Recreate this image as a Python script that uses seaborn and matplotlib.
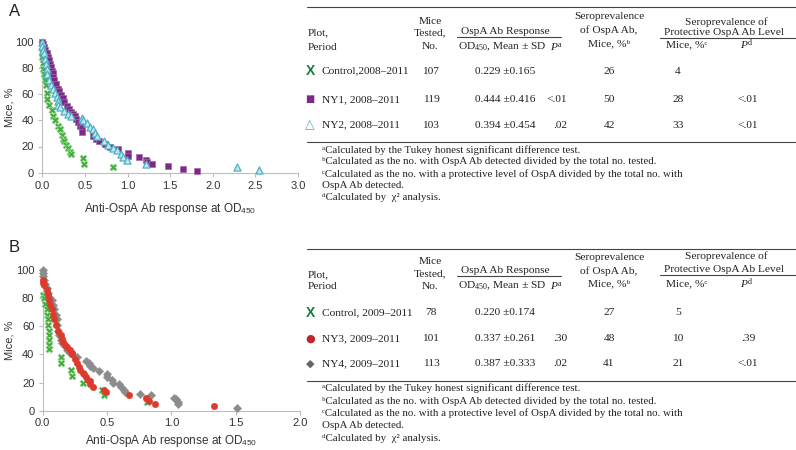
import matplotlib
matplotlib.use('Agg')
import matplotlib.pyplot as plt
import seaborn as sns
from matplotlib.lines import Line2D
from matplotlib.ticker import FormatStrFormatter

W, H = 796, 450

# -------------------------------------------------------------------------
# Data: panel A (2008-2011)
# -------------------------------------------------------------------------
ctrl_a_od = [0.00, 0.00, 0.00, 0.01, 0.01, 0.02, 0.03, 0.04, 0.05, 0.06, 0.08, 0.11, 0.13,
             0.15, 0.19, 0.21, 0.23, 0.24, 0.25, 0.28, 0.30, 0.32, 0.34, 0.48, 0.49, 0.83]
ctrl_a_pct = [96, 92, 88, 84, 79, 75, 71, 67, 61, 56, 52, 48, 43,
              40, 36, 33, 29, 26, 24, 21, 19, 16, 14, 11, 7, 4]

ny1_a_od = [0.00, 0.01, 0.02, 0.03, 0.05, 0.07, 0.08, 0.09, 0.10, 0.11, 0.12, 0.13, 0.14,
            0.16, 0.18, 0.20, 0.22, 0.24, 0.26, 0.29, 0.31, 0.34, 0.36, 0.38, 0.40, 0.42,
            0.44, 0.46, 0.47, 0.60, 0.63, 0.66, 0.73, 0.79, 0.89, 1.00, 1.00, 1.13, 1.22,
            1.23, 1.29, 1.48, 1.65, 1.82]
ny1_a_pct = [100, 98, 96, 94, 91, 88, 86, 83, 81, 78, 76, 73, 71,
             68, 64, 62, 59, 57, 54, 51, 49, 46, 45, 43, 41, 39,
             36, 34, 31, 28, 26, 24, 22, 20, 18, 15, 13, 12, 10,
             8, 7, 5, 3, 1.5]

ny2_a_od = [0.00, 0.00, 0.01, 0.02, 0.03, 0.04, 0.05, 0.06, 0.08, 0.10, 0.12, 0.15, 0.17,
            0.18, 0.19, 0.21, 0.25, 0.30, 0.34, 0.46, 0.48, 0.52, 0.56, 0.60, 0.62, 0.64,
            0.72, 0.77, 0.83, 0.88, 0.92, 0.95, 0.99, 1.22, 2.29, 2.54]
ny2_a_pct = [100, 97, 94, 91, 87, 83, 79, 75, 71, 67, 64, 61, 58,
             55, 52, 50, 47, 45, 43, 42, 40, 38, 35, 33, 30, 28,
             24, 21, 19, 17, 14, 12, 10, 7, 4, 2]

# -------------------------------------------------------------------------
# Data: panel B (2009-2011)
# -------------------------------------------------------------------------
ctrl_b_od = [0.00, 0.01, 0.02, 0.03, 0.03, 0.04, 0.04, 0.05, 0.05, 0.05, 0.05, 0.05,
             0.14, 0.14, 0.22, 0.23, 0.31, 0.46, 0.48, 0.81]
ctrl_b_pct = [82, 80, 76, 72, 68, 65, 61, 57, 54, 50, 47, 44,
              38, 34, 29, 25, 20, 15, 11, 6]

ny3_b_od = [0.00, 0.00, 0.01, 0.03, 0.04, 0.05, 0.06, 0.07, 0.08, 0.09, 0.10, 0.12, 0.14,
            0.15, 0.16, 0.17, 0.19, 0.21, 0.23, 0.23, 0.25, 0.27, 0.28, 0.29, 0.31, 0.32,
            0.34, 0.35, 0.37, 0.37, 0.39, 0.48, 0.49, 0.67, 0.80, 0.83, 0.87, 1.33]
ny3_b_pct = [93, 91, 89, 86, 82, 79, 75, 72, 68, 65, 61, 57, 54,
             51, 49, 47, 45, 43, 41, 40, 37, 34, 31, 29, 27, 26,
             24, 22, 21, 19, 17, 15, 13, 11, 9, 7, 5, 3]

ny4_b_od = [0.00, 0.00, 0.00, 0.01, 0.02, 0.03, 0.04, 0.05, 0.07, 0.08, 0.09, 0.10, 0.11,
            0.11, 0.12, 0.13, 0.14, 0.15, 0.17, 0.19, 0.21, 0.23, 0.27, 0.34, 0.36, 0.37,
            0.39, 0.44, 0.50, 0.50, 0.54, 0.55, 0.59, 0.61, 0.63, 0.64, 0.76, 0.84, 1.02,
            1.04, 1.05, 1.05, 1.51]
ny4_b_pct = [100, 98, 96, 93, 90, 87, 84, 81, 79, 75, 72, 68, 65,
             61, 57, 54, 50, 48, 46, 43, 41, 40, 38, 35, 34, 32,
             30, 28, 26, 24, 22, 20, 19, 17, 15, 13, 12, 11, 9,
             8, 6, 5, 2]

# -------------------------------------------------------------------------
# Table contents
# -------------------------------------------------------------------------
tab_a_plot = ['Control,2008–2011', 'NY1, 2008–2011', 'NY2, 2008–2011']
tab_a_n = ['107', '119', '103']
tab_a_od = ['0.229 ±0.165', '0.444 ±0.416', '0.394 ±0.454']
tab_a_p = ['', '<.01', '.02']
tab_a_sero = ['26', '50', '42']
tab_a_prot = ['4', '28', '33']
tab_a_pd = ['', '<.01', '<.01']

tab_b_plot = ['Control, 2009–2011', 'NY3, 2009–2011', 'NY4, 2009–2011']
tab_b_n = ['78', '101', '113']
tab_b_od = ['0.220 ±0.174', '0.337 ±0.261', '0.387 ±0.333']
tab_b_p = ['', '.30', '.02']
tab_b_sero = ['27', '48', '41']
tab_b_prot = ['5', '10', '21']
tab_b_pd = ['', '.39', '<.01']

footnotes = [
    'ᵃCalculated by the Tukey honest significant difference test.',
    'ᵇCalculated as the no. with OspA Ab detected divided by the total no. tested.',
    'ᶜCalculated as the no. with a protective level of OspA divided by the total no. with',
    'OspA Ab detected.',
    'ᵈCalculated by  χ² analysis.',
]

# colours
GREEN = '#3fae3a'
PURPLE = '#7b2a85'
CYAN_EDGE = '#4fb0c6'
CYAN_FACE = '#c4e6ee'
RED = '#dc3a2c'
GRAY = '#8c8c8c'

sns.set_theme(style='white')
plt.rcParams['font.family'] = ['Liberation Sans', 'DejaVu Sans']
plt.rcParams['mathtext.fontset'] = 'custom'
plt.rcParams['mathtext.rm'] = 'Liberation Serif'
plt.rcParams['mathtext.it'] = 'Liberation Serif:italic'
plt.rcParams['mathtext.sf'] = 'Liberation Sans'

fig = plt.figure(figsize=(W / 100, H / 100), dpi=100)
SERIF = ['Liberation Serif', 'DejaVu Serif', 'DejaVu Sans']
BODY = 8.2
FOOT = 7.8


def px_axes(x0, y0, x1, y1):
    return fig.add_axes([x0 / W, 1 - y1 / H, (x1 - x0) / W, (y1 - y0) / H])


def ftext(x, y, s, size=BODY, ha='left', family=SERIF, **kw):
    fig.text(x / W, 1 - y / H, s, ha=ha, va='center', fontsize=size,
             family=family, color='#222222', **kw)


def hline(x0, x1, y, lw=0.8):
    fig.add_artist(Line2D([x0 / W, x1 / W], [1 - y / H, 1 - y / H],
                          color='#444444', lw=lw))


def style_axes(ax, xmax, xpad, xlabelpad):
    ax.set_xlim(0, xmax)
    ax.set_ylim(0, 100)
    ax.set_xticks([i * 0.5 for i in range(int(xmax * 2) + 1)])
    ax.set_yticks(range(0, 101, 20))
    ax.xaxis.set_major_formatter(FormatStrFormatter('%.1f'))
    sns.despine(ax=ax)
    for sp in ['left', 'bottom']:
        ax.spines[sp].set_color('#bdbdbd')
        ax.spines[sp].set_linewidth(0.8)
    ax.tick_params(direction='out', length=3, width=0.8, color='#bdbdbd',
                   labelsize=8, labelcolor='#333333', bottom=True, left=True)
    ax.tick_params(axis='x', pad=xpad)
    ax.tick_params(axis='y', pad=3)
    ax.set_xlabel(r'Anti-OspA Ab response at OD$_\mathsf{450}$', fontsize=8.5,
                  color='#333333', labelpad=xlabelpad)
    ax.set_ylabel('Mice, %', fontsize=8, color='#333333', labelpad=1)


# -------------------------------------------------------------------------
# Panel A scatter
# -------------------------------------------------------------------------
ax_a = px_axes(42.3, 41.7, 298, 172.7)
sns.scatterplot(x=ctrl_a_od, y=ctrl_a_pct, marker='X', s=28, color=GREEN,
                edgecolor='#bfe3bb', linewidth=0.4, ax=ax_a, clip_on=False, zorder=3)
sns.scatterplot(x=ny1_a_od, y=ny1_a_pct, marker='s', s=22, color=PURPLE,
                edgecolor='#a36aa9', linewidth=0.5, ax=ax_a, clip_on=False, zorder=4)
sns.scatterplot(x=ny2_a_od, y=ny2_a_pct, marker='^', s=26, color=CYAN_FACE,
                edgecolor=CYAN_EDGE, linewidth=0.9, ax=ax_a, clip_on=False, zorder=5)
style_axes(ax_a, 3.0, 3, 7)

# -------------------------------------------------------------------------
# Panel B scatter
# -------------------------------------------------------------------------
ax_b = px_axes(42.7, 270, 300, 410.7)
sns.scatterplot(x=ctrl_b_od, y=ctrl_b_pct, marker='X', s=28, color=GREEN,
                edgecolor='#bfe3bb', linewidth=0.4, ax=ax_b, clip_on=False, zorder=3)
sns.scatterplot(x=ny4_b_od, y=ny4_b_pct, marker='D', s=18, color=GRAY,
                edgecolor=GRAY, linewidth=0.3, ax=ax_b, clip_on=False, zorder=4)
sns.scatterplot(x=ny3_b_od, y=ny3_b_pct, marker='o', s=22, color=RED,
                edgecolor=RED, linewidth=0.3, ax=ax_b, clip_on=False, zorder=5)
style_axes(ax_b, 2.0, 2.5, 3)

# panel letters
ftext(9, 12, 'A', size=12, family=['Liberation Sans'])
ftext(9, 247, 'B', size=12, family=['Liberation Sans'])


# -------------------------------------------------------------------------
# Tables
# -------------------------------------------------------------------------
def draw_table(top, hdr, rows_y, foot_y, bottom, under_y, cols, symbols):
    plot_c, n_c, od_c, p_c, sero_c, prot_c, pd_c = cols
    hline(306.5, 796, top)
    hline(457, 561, under_y[0])
    hline(660, 796, under_y[1])
    hline(306.5, 796, bottom)

    # header
    ftext(307.5, hdr['plot'][0], 'Plot,')
    ftext(307.5, hdr['plot'][1], 'Period')
    for s, y in zip(['Mice', 'Tested,', 'No.'], hdr['mice']):
        ftext(430, y, s, ha='center')
    ftext(505, hdr['resp'], 'OspA Ab Response', ha='center')
    ftext(458, hdr['od'], r'OD$_{450}$, Mean ± SD')
    ftext(550, hdr['od'], r'$P^{\mathrm{a}}$')
    for s, y in zip(['Seroprevalence', 'of OspA Ab,', 'Mice, %ᵇ'], hdr['sero']):
        ftext(609, y, s, ha='center')
    ftext(726, hdr['prot'][0], 'Seroprevalence of', ha='center')
    ftext(724, hdr['prot'][1], 'Protective OspA Ab Level', ha='center')
    ftext(687, hdr['prot'][2], 'Mice, %ᶜ', ha='center')
    ftext(747, hdr['prot'][2], r'$P^{\mathrm{d}}$', ha='center')

    # body
    for i, y in enumerate(rows_y):
        sym, col, sz, fam, wt = symbols[i]
        fig.text(310 / W, 1 - y / H, sym, ha='center', va='center', color=col,
                 fontsize=sz, family=fam, fontweight=wt)
        ftext(321.5, y, plot_c[i])
        ftext(431, y, n_c[i], ha='center')
        ftext(475, y, od_c[i])
        ftext(567, y, p_c[i], ha='right')
        ftext(609, y, sero_c[i], ha='center')
        ftext(678, y, prot_c[i], ha='center')
        ftext(748, y, pd_c[i], ha='center')

    for s, y in zip(footnotes, foot_y):
        ftext(322.5, y, s, size=FOOT)


draw_table(
    top=7.3,
    hdr={'plot': (32.7, 47.2), 'mice': (21.7, 32.3, 46.7), 'resp': 31.7, 'od': 47.2,
         'sero': (16.7, 30, 43.3), 'prot': (21.7, 32.3, 45)},
    rows_y=[71, 99.3, 125],
    foot_y=[150, 161.7, 174, 186, 197.3],
    bottom=141.7,
    under_y=(37.3, 38.3),
    cols=(tab_a_plot, tab_a_n, tab_a_od, tab_a_p, tab_a_sero, tab_a_prot, tab_a_pd),
    symbols=[('X', '#1d7a3a', 10, ['Liberation Sans'], 'bold'),
             ('■', PURPLE, 7, ['DejaVu Sans'], 'normal'),
             ('△', CYAN_EDGE, 9, ['DejaVu Sans'], 'normal')],
)

draw_table(
    top=249.3,
    hdr={'plot': (275, 286.7), 'mice': (261.7, 273.3, 286.7), 'resp': 270.7, 'od': 285.7,
         'sero': (257.3, 270.7, 283.3), 'prot': (256, 269.3, 283.3)},
    rows_y=[312.7, 338.3, 363.3],
    foot_y=[388.3, 401, 413.3, 426, 438.3],
    bottom=380.7,
    under_y=(276, 275),
    cols=(tab_b_plot, tab_b_n, tab_b_od, tab_b_p, tab_b_sero, tab_b_prot, tab_b_pd),
    symbols=[('X', '#1d7a3a', 10, ['Liberation Sans'], 'bold'),
             ('●', '#c0272d', 8, ['DejaVu Sans'], 'normal'),
             ('◆', '#666666', 8, ['DejaVu Sans'], 'normal')],
)

fig.savefig('out.png', dpi=100)
